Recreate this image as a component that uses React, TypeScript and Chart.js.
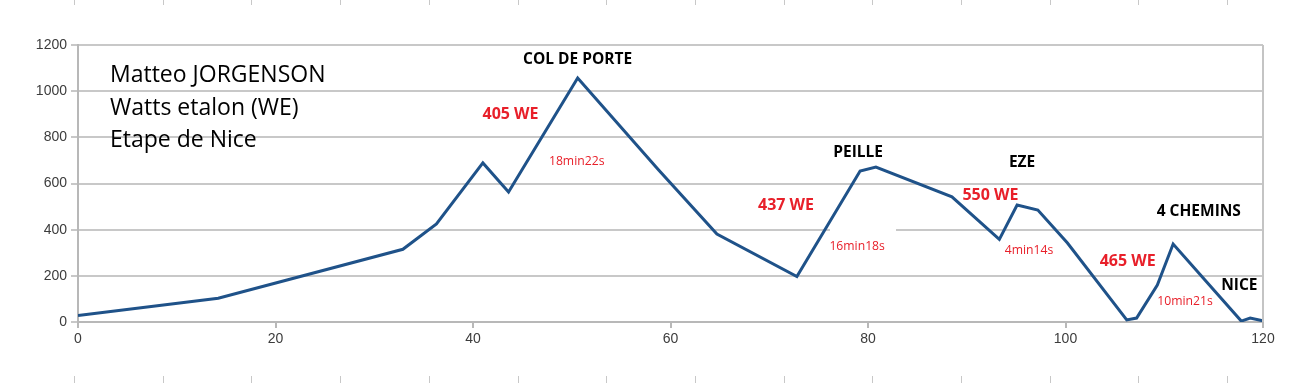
import React, { useEffect, useRef } from "react";
import { Chart, registerables } from "chart.js";

Chart.register(...registerables);

// distance (km) and watts values along the stage
const distances = [0, 14.2, 32.9, 36.3, 41.0, 43.6, 50.6, 58.8, 64.7, 72.8, 79.2, 80.8, 88.5, 93.3, 95.1, 97.2, 100.2, 106.2, 107.2, 109.3, 110.9, 117.8, 118.7, 120];
const watts = [28, 103, 315, 425, 689, 563, 1057, 658, 381, 197, 654, 671, 542, 358, 507, 485, 342, 9, 17, 160, 338, 4, 17, 5];

const xTicks = [0, 20, 40, 60, 80, 100, 120];
const yTicks = [0, 200, 400, 600, 800, 1000, 1200];

const titleLines = ["Matteo JORGENSON", "Watts etalon (WE)", "Etape de Nice"];
const titleX = 3.24;
const titleY = [1066, 927, 788];

const climbNames = ["COL DE PORTE", "PEILLE", "EZE", "4 CHEMINS", "NICE"];
const climbX = [50.6, 79.0, 95.6, 113.5, 117.6];
const climbY = [1135, 736, 689, 477, 156];

const powerLabels = ["405 WE", "437 WE", "550 WE", "465 WE"];
const powerX = [43.8, 71.7, 92.4, 106.3];
const powerY = [901, 503, 550, 264];

const timeLabels = ["18min22s", "16min18s", "4min14s", "10min21s"];
const timeX = [50.5, 78.9, 96.3, 112.1];
const timeY = [697, 329, 308, 87];

const W = 1315;
const H = 383;

const annotationPlugin = {
  id: "annots",
  beforeDatasetsDraw(chart: any) {
    const { ctx, scales } = chart;
    const y = scales.y;
    ctx.save();
    // white patch hiding part of the 400 grid line
    ctx.fillStyle = "#ffffff";
    const py = y.getPixelForValue(400);
    ctx.fillRect(830, py - 2, 66, 4);
    ctx.restore();
  },
  afterDatasetsDraw(chart: any) {
    const { ctx, scales, chartArea } = chart;
    const x = scales.x;
    const y = scales.y;
    ctx.save();
    // right border
    ctx.strokeStyle = "#c4c4c4";
    ctx.lineWidth = 2;
    ctx.beginPath();
    ctx.moveTo(chartArea.right, chartArea.top);
    ctx.lineTo(chartArea.right, chartArea.bottom);
    ctx.stroke();

    // ruler ticks at top and bottom
    ctx.strokeStyle = "#c8c8c8";
    ctx.lineWidth = 1;
    for (let k = 0; k < 15; k++) {
      const px = Math.round(74 + 88.7 * k) + 0.5;
      ctx.beginPath();
      ctx.moveTo(px, 0);
      ctx.lineTo(px, 5);
      ctx.moveTo(px, 376);
      ctx.lineTo(px, 383);
      ctx.stroke();
    }

    ctx.textBaseline = "middle";
    // title
    ctx.fillStyle = "#000000";
    ctx.textAlign = "left";
    ctx.font = '23px "Open Sans"';
    titleLines.forEach((t, i) => {
      ctx.fillText(t, x.getPixelForValue(titleX), y.getPixelForValue(titleY[i]));
    });
    ctx.textAlign = "center";
    ctx.font = 'bold 15.5px "Open Sans"';
    climbNames.forEach((t, i) => {
      ctx.fillText(t, x.getPixelForValue(climbX[i]), y.getPixelForValue(climbY[i]));
    });
    ctx.fillStyle = "#e8202a";
    ctx.font = 'bold 16px "Open Sans"';
    powerLabels.forEach((t, i) => {
      ctx.fillText(t, x.getPixelForValue(powerX[i]), y.getPixelForValue(powerY[i]));
    });
    ctx.font = '12.2px "Open Sans"';
    timeLabels.forEach((t, i) => {
      ctx.fillText(t, x.getPixelForValue(timeX[i]), y.getPixelForValue(timeY[i]));
    });
    ctx.restore();
  },
};

export default function App() {
  const ref = useRef<HTMLCanvasElement | null>(null);

  useEffect(() => {
    if (!ref.current) return;
    const chart = new Chart(ref.current, {
      type: "line",
      data: {
        datasets: [
          {
            data: distances.map((d, i) => ({ x: d, y: watts[i] })),
            borderColor: "#1f5289",
            borderWidth: 3,
            pointRadius: 0,
            tension: 0,
            fill: false,
          },
        ],
      },
      options: {
        animation: false,
        responsive: false,
        maintainAspectRatio: false,
        layout: { padding: { top: 45, right: 52, left: 0, bottom: 0 } },
        plugins: {
          legend: { display: false },
          tooltip: { enabled: false },
        },
        scales: {
          x: {
            type: "linear",
            min: 0,
            max: 120,
            afterBuildTicks: (s: any) => {
              s.ticks = xTicks.map((v) => ({ value: v }));
            },
            afterFit: (s: any) => {
              s.height = 61;
            },
            grid: {
              drawOnChartArea: false,
              drawTicks: true,
              tickLength: 6,
              color: "#b8b8b8",
              lineWidth: 2,
            },
            border: { color: "#b8b8b8", width: 2 },
            ticks: {
              padding: 3,
              color: "#3c3c3c",
              font: { family: '"Liberation Sans", Arial', size: 14 },
              maxRotation: 0,
              callback: (v: any) => String(v),
            },
          },
          y: {
            type: "linear",
            min: 0,
            max: 1200,
            afterBuildTicks: (s: any) => {
              s.ticks = yTicks.map((v) => ({ value: v }));
            },
            afterFit: (s: any) => {
              s.width = 78;
            },
            grid: {
              color: "#c8c8c8",
              lineWidth: 2,
              drawTicks: true,
              tickLength: 7,
            },
            border: { color: "#b8b8b8", width: 2 },
            ticks: {
              padding: 4,
              color: "#3c3c3c",
              font: { family: '"Liberation Sans", Arial', size: 14 },
              callback: (v: any) => String(v),
            },
          },
        },
      },
      plugins: [annotationPlugin],
    } as any);
    return () => chart.destroy();
  }, []);

  return (
    <div style={{ position: "absolute", left: 0, top: 0, width: W, height: H, background: "#ffffff" }}>
      <canvas ref={ref} width={W} height={H} style={{ width: W, height: H, display: "block" }} />
    </div>
  );
}
